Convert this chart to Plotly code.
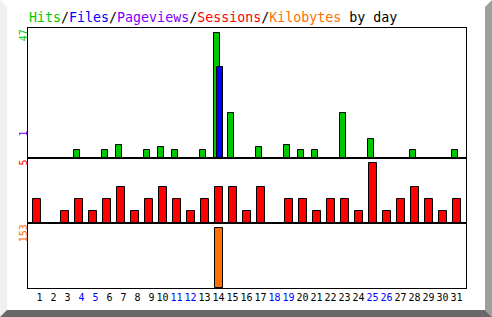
import plotly.graph_objects as go

days = list(range(1, 32))
weekend_days = [4, 5, 11, 12, 18, 19, 25, 26]
hits = [0, 0, 0, 3, 0, 3, 5, 0, 3, 4, 3, 0, 3, 47, 17, 0, 4, 0, 5, 3, 3, 0, 17, 0, 7, 0, 0, 3, 0, 0, 3]
files = [0]*13 + [34] + [0]*17
pageviews = [0]*13 + [1] + [0]*17
sessions = [2, 0, 1, 2, 1, 2, 3, 1, 2, 3, 2, 1, 2, 3, 3, 1, 3, 0, 2, 2, 1, 2, 2, 1, 5, 1, 2, 3, 2, 1, 2]
kilobytes = [0]*13 + [153] + [0]*17

C_HITS = "#00C800"
C_FILES = "#0000FF"
C_PAGES = "#8000FF"
C_SESS = "#FF0000"
C_KB = "#FF6E00"
MONO = "DejaVu Sans Mono"

W, H = 492, 317
L, R, T, B = 28, 26, 28, 29
PW, PH = W - L - R, H - T - B
u = 1.0 / 14  # one pixel in x data units

x0 = (L - 22.5) / 14
x1 = (W - R - 22.5) / 14

def px(x):
    return (x - L) / PW

def py(y):
    return (H - B - y) / PH

def nz(vals):
    # zero-valued days draw no bar
    return [v if v else None for v in vals]

fig = go.Figure()
line = dict(color="black", width=1)

fig.add_trace(go.Bar(x=days, y=nz(hits), offset=-5*u, width=6*u, marker=dict(color=C_HITS, line=line),
                     xaxis="x", yaxis="y"))
fig.add_trace(go.Bar(x=days, y=nz(pageviews), offset=-1.5*u, width=5.5*u, marker=dict(color=C_PAGES, line=line),
                     xaxis="x", yaxis="y"))
fig.add_trace(go.Bar(x=days, y=nz(files), offset=-1.5*u, width=5.5*u, marker=dict(color=C_FILES, line=line),
                     xaxis="x", yaxis="y"))
fig.add_trace(go.Bar(x=days, y=nz(sessions), offset=-4*u, width=8*u, marker=dict(color=C_SESS, line=line),
                     xaxis="x2", yaxis="y2"))
fig.add_trace(go.Bar(x=days, y=nz(kilobytes), offset=-4*u, width=8*u, marker=dict(color=C_KB, line=line),
                     xaxis="x3", yaxis="y3"))

ticktext = []
for d in days:
    s = str(d) if d >= 10 else "\u00a0" + str(d)
    col = "#0000FF" if d in weekend_days else "#000000"
    ticktext.append(f"<span style='color:{col}'>{s}</span>")

ax_common = dict(range=[x0, x1], showline=True, mirror=True, linecolor="black", linewidth=1,
                 showgrid=False, zeroline=False, ticks="", fixedrange=True)
ay_common = dict(showline=True, mirror=True, linecolor="black", linewidth=1, showgrid=False,
                 zeroline=False, showticklabels=False, ticks="", fixedrange=True)

top_range = max(hits) * 130 / 125.2
mid_range = max(sessions) * 65 / 60.2
bot_range = max(kilobytes) * 65 / 60.5

fig.update_layout(
    width=W, height=H, margin=dict(l=L, r=R, t=T, b=B),
    paper_bgcolor="white", plot_bgcolor="white", showlegend=False,
    barmode="overlay", bargap=0,
    font=dict(family=MONO, size=10, color="black"),
    xaxis=dict(**ax_common, anchor="y", showticklabels=False),
    xaxis2=dict(**ax_common, anchor="y2", showticklabels=False, matches="x"),
    xaxis3=dict(**ax_common, anchor="y3", tickvals=days, ticktext=ticktext, showticklabels=True,
                tickangle=0, tickfont=dict(family=MONO, size=10), matches="x"),
    yaxis=dict(**ay_common, domain=[0.5, 1.0], range=[0, top_range], anchor="x"),
    yaxis2=dict(**ay_common, domain=[0.25, 0.5], range=[0, mid_range], anchor="x2"),
    yaxis3=dict(**ay_common, domain=[0.0, 0.25], range=[0, bot_range], anchor="x3"),
)

title = ("<span style='color:%s'>Hits</span>/<span style='color:%s'>Files</span>/"
         "<span style='color:%s'>Pageviews</span>/<span style='color:%s'>Sessions</span>/"
         "<span style='color:%s'>Kilobytes</span> by day") % (C_HITS, C_FILES, C_PAGES, C_SESS, C_KB)

annos = [
    dict(text=title, x=px(28), y=py(17.5), xanchor="left", yanchor="middle",
         font=dict(family=MONO, size=13.3, color="black")),
    dict(text=str(max(hits)), x=px(23), y=py(35.3), textangle=-90, font=dict(family=MONO, size=10, color=C_HITS)),
    dict(text=str(max(pageviews)), x=px(23), y=py(133.5), textangle=-90, font=dict(family=MONO, size=10, color=C_PAGES)),
    dict(text=str(max(sessions)), x=px(23), y=py(162.5), textangle=-90, font=dict(family=MONO, size=10, color=C_SESS)),
    dict(text=str(max(kilobytes)), x=px(23), y=py(233.3), textangle=-90, font=dict(family=MONO, size=10, color=C_KB)),
]
for a in annos:
    a.update(xref="paper", yref="paper", showarrow=False, borderpad=0)
    a.setdefault("xanchor", "center")
    a.setdefault("yanchor", "middle")
fig.update_layout(annotations=annos)

def poly(pts):
    return "M " + " L ".join(f"{px(a):.5f},{py(b):.5f}" for a, b in pts) + " Z"

shapes = [
    dict(type="path", path=poly([(0, 0), (7, 7), (7, 310), (0, 317)]), fillcolor="#F0F0F0"),
    dict(type="path", path=poly([(492, 0), (485, 7), (485, 310), (492, 317)]), fillcolor="#9E9E9E"),
    dict(type="path", path=poly([(0, 317), (7, 310), (485, 310), (492, 317)]), fillcolor="#686868"),
]
for s in shapes:
    s.update(xref="paper", yref="paper", line=dict(width=0), layer="below")
fig.update_layout(shapes=shapes)

fig.write_html("out.html")
